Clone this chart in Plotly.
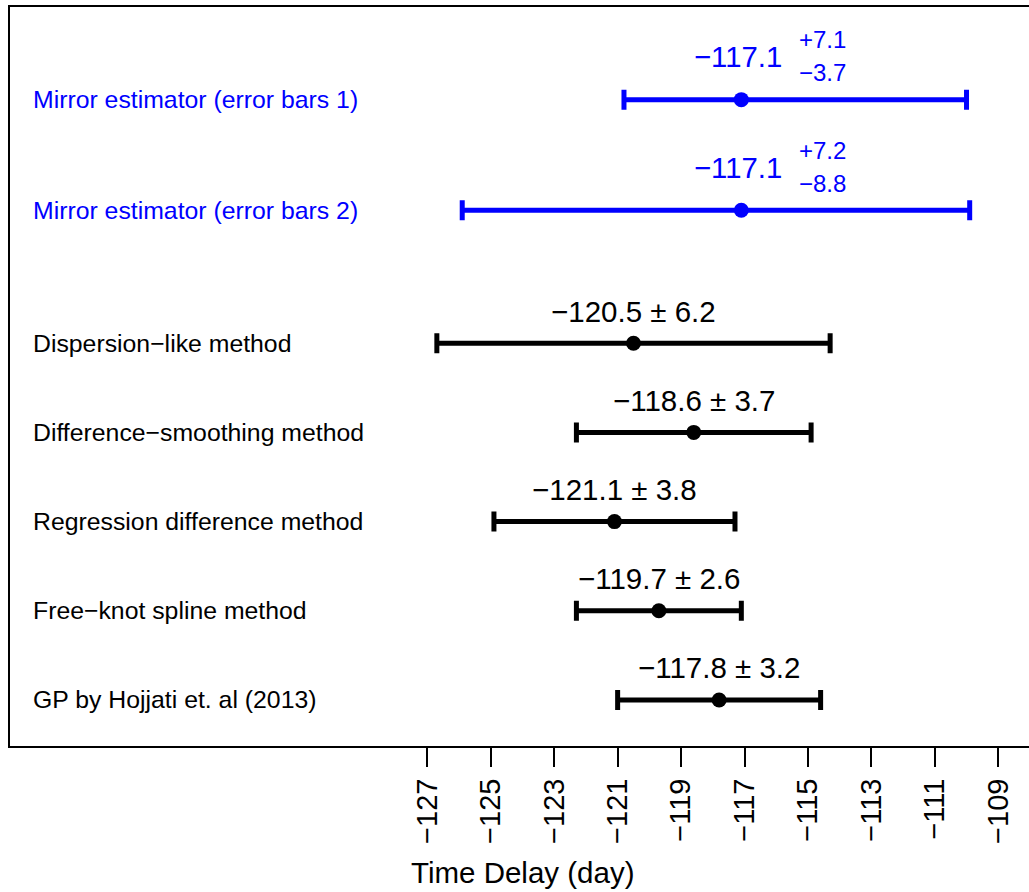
import plotly.graph_objects as go

# ---- data ----
methods = [
    "Mirror estimator (error bars 1)",
    "Mirror estimator (error bars 2)",
    "Dispersion\u2212like method",
    "Difference\u2212smoothing method",
    "Regression difference method",
    "Free\u2212knot spline method",
    "GP by Hojjati et. al (2013)",
]
estimates = [-117.1, -117.1, -120.5, -118.6, -121.1, -119.7, -117.8]
err_plus = [7.1, 7.2, 6.2, 3.7, 3.8, 2.6, 3.2]
err_minus = [3.7, 8.8, 6.2, 3.7, 3.8, 2.6, 3.2]
row_pos = [7.73, 6.49, 5, 4, 3, 2, 1]
is_mirror = [True, True, False, False, False, False, False]
tick_vals = [-127, -125, -123, -121, -119, -117, -115, -113, -111, -109]
tick_text = ["\u2212" + str(abs(v)) for v in tick_vals]

BLUE = "#0000FF"
BLACK = "#000000"
FONT = "Liberation Sans, Arial, Helvetica, sans-serif"

def fmt(v):
    s = f"{abs(v):.1f}"
    return ("\u2212" if v < 0 else "+") + s

fig = go.Figure()
annotations = []
for name, est, ep, em, y, mirror in zip(methods, estimates, err_plus, err_minus, row_pos, is_mirror):
    col = BLUE if mirror else BLACK
    fig.add_trace(go.Scatter(
        x=[est], y=[y], mode="markers",
        marker=dict(color=col, size=15, symbol="circle"),
        error_x=dict(type="data", symmetric=False, array=[ep], arrayminus=[em],
                     color=col, thickness=5, width=10),
        showlegend=False, hoverinfo="skip",
    ))
    # left label
    annotations.append(dict(x=-139.4, y=y, xref="x", yref="y", text=name, showarrow=False,
                            xanchor="left", yanchor="middle", xshift=-3,
                            font=dict(family=FONT, size=24.8, color=col)))
    if mirror:
        annotations.append(dict(x=est, y=y, xref="x", yref="y", text=fmt(est), showarrow=False,
                                xanchor="right", yanchor="middle", xshift=43, yshift=43,
                                font=dict(family=FONT, size=29.3, color=col)))
        annotations.append(dict(x=est, y=y, xref="x", yref="y", text=fmt(ep), showarrow=False,
                                xanchor="left", yanchor="middle", xshift=56, yshift=60,
                                font=dict(family=FONT, size=24, color=col)))
        annotations.append(dict(x=est, y=y, xref="x", yref="y", text=fmt(-em), showarrow=False,
                                xanchor="left", yanchor="middle", xshift=56, yshift=27,
                                font=dict(family=FONT, size=24, color=col)))
    else:
        annotations.append(dict(x=est, y=y, xref="x", yref="y",
                                text=f"{fmt(est)} \u00b1 {ep:.1f}", showarrow=False,
                                xanchor="center", yanchor="middle", yshift=32,
                                font=dict(family=FONT, size=29.5, color=col)))

annotations.append(dict(x=0.503, y=-0.1687, xref="paper", yref="paper", text="Time Delay (day)",
                        showarrow=False, xanchor="center", yanchor="middle",
                        font=dict(family=FONT, size=29.5, color=BLACK)))

fig.update_layout(
    width=1029, height=892,
    margin=dict(l=9, r=0, t=6, b=145),
    paper_bgcolor="white", plot_bgcolor="white",
    annotations=annotations,
    shapes=[dict(type="rect", xref="paper", yref="paper", x0=0, x1=1.02, y0=0, y1=1,
                 line=dict(color=BLACK, width=2), layer="above")],
    xaxis=dict(range=[-140.19, -108.03], showgrid=False, zeroline=False, showline=False,
               tickmode="array", tickvals=tick_vals, ticktext=tick_text,
               ticks="outside", ticklen=19, tickwidth=1.5, tickcolor=BLACK,
               tickangle=-90, tickfont=dict(family=FONT, size=29, color=BLACK)),
    yaxis=dict(range=[0.473, 8.78], showgrid=False, zeroline=False, showline=False,
               showticklabels=False, ticks=""),
)

fig.write_html("out.html", config={"displayModeBar": False},
               post_script="document.body.style.margin='0';document.body.style.overflow='hidden';")
